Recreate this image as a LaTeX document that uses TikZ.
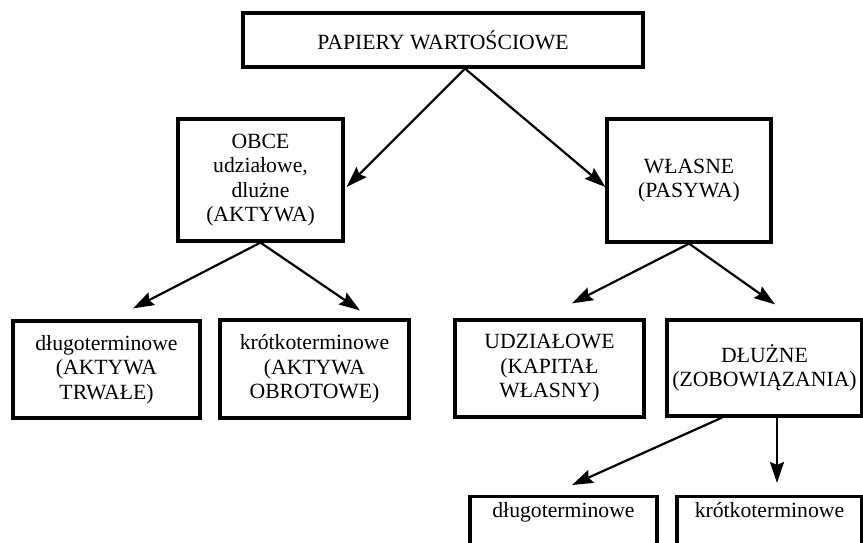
\documentclass[tikz,border=0pt]{standalone}
\usepackage{fontspec}
\setmainfont{Liberation Serif}
\usetikzlibrary{arrows.meta}

\begin{document}
\begin{tikzpicture}[x=1pt,y=-1pt,
    box/.style={draw,line width=3.2pt,inner sep=0pt,align=center,font=\fontsize{21.7}{24.5}\selectfont},
    arr/.style={-{Stealth[length=21pt,width=14pt,inset=3pt]},line width=2.2pt}]
  \useasboundingbox (0,0) rectangle (863,543);
  \clip (0,0) rectangle (863,543);
  \node [box,minimum width=400pt,minimum height=54pt] (papiery) at (443,40) {PAPIERY WARTOŚCIOWE};
  \node [box,minimum width=165pt,minimum height=122pt] (obce) at (260.5,180) {OBCE\\udziałowe,\\dlużne\\(AKTYWA)};
  \node [box,minimum width=164pt,minimum height=123pt] (wlasne) at (689,180.5) {WŁASNE\\(PASYWA)};
  \node [box,minimum width=187pt,minimum height=97pt] (dlugoA) at (106.5,369.5) {długoterminowe\\(AKTYWA\\TRWAŁE)};
  \node [box,minimum width=189pt,minimum height=98pt] (krotkoA) at (314.5,369) {krótkoterminowe\\(AKTYWA\\OBROTOWE)};
  \node [box,minimum width=189pt,minimum height=97pt] (udzialowe) at (549.5,368.5) {UDZIAŁOWE\\(KAPITAŁ\\WŁASNY)};
  \node [box,minimum width=195pt,minimum height=96pt] (dluzne) at (764.5,368) {DŁUŻNE\\(ZOBOWIĄZANIA)};
  \node [box,minimum width=187pt,text height=21pt,text depth=60pt,anchor=north] (dlugoP) at (563.5,495) {długoterminowe};
  \node [box,minimum width=185pt,text height=21pt,text depth=60pt,anchor=north] (krotkoP) at (769.5,495) {krótkoterminowe};
  \draw [arr] ([xshift=22pt]papiery.south) -- ([shift={(2,7)}]obce.east);
  \draw [arr] ([xshift=22pt]papiery.south) -- ([shift={(0,6.5)}]wlasne.west);
  \draw [arr] (obce.south) -- ([shift={(26.5,-11)}]dlugoA.north);
  \draw [arr] (obce.south) -- ([shift={(45.5,-8)}]krotkoA.north);
  \draw [arr] (wlasne.south) -- ([shift={(22.5,-15)}]udzialowe.north);
  \draw [arr] (wlasne.south) -- ([shift={(10.5,-14)}]dluzne.north);
  \draw [arr] ([xshift=-42.5pt]dluzne.south) -- ([shift={(8.5,-10)}]dlugoP.north);
  \draw [arr] ([xshift=12.5pt]dluzne.south) -- ([shift={(7.5,-12)}]krotkoP.north);
\end{tikzpicture}
\end{document}
